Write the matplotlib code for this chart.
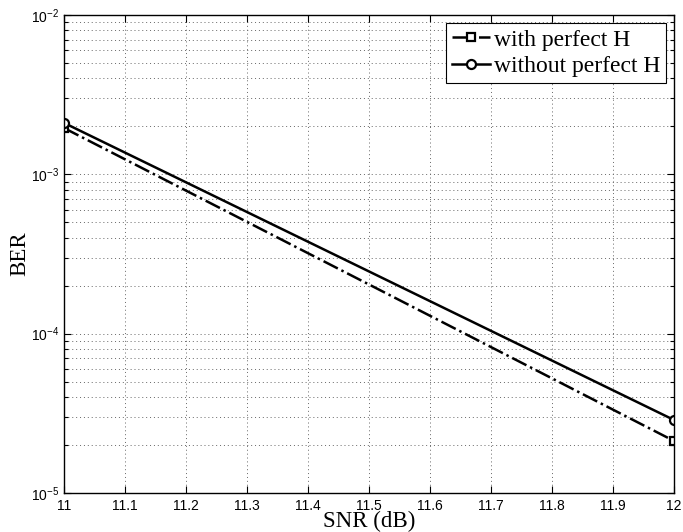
import matplotlib
matplotlib.use("Agg")
import matplotlib.pyplot as plt
from matplotlib.ticker import LogLocator, FixedLocator, NullFormatter

snr = [11, 12]
ber_perfect = [1.95e-3, 2.12e-5]
ber_imperfect = [2.10e-3, 2.87e-5]
xticks = [11, 11.1, 11.2, 11.3, 11.4, 11.5, 11.6, 11.7, 11.8, 11.9, 12]
xticklabels = ["11", "11.1", "11.2", "11.3", "11.4", "11.5", "11.6", "11.7", "11.8", "11.9", "12"]

fig = plt.figure(figsize=(6.83, 5.32), dpi=100)
ax = fig.add_axes([0.094, 0.0733, 0.893, 0.8985])

ax.semilogy(snr, ber_perfect, linestyle='-.', color='black', linewidth=1.8,
            marker='s', markersize=5.5, markerfacecolor='white', markeredgewidth=1.6,
            label='with perfect H')
ax.semilogy(snr, ber_imperfect, linestyle='-', color='black', linewidth=1.8,
            marker='o', markersize=6.5, markerfacecolor='white', markeredgewidth=1.6,
            label='without perfect H')

ax.set_xlim(11, 12)
ax.set_ylim(1e-5, 1e-2)
ax.xaxis.set_major_locator(FixedLocator(xticks))
ax.set_xticklabels(xticklabels)
ax.yaxis.set_major_locator(LogLocator(base=10, numticks=10))
ax.yaxis.set_minor_locator(LogLocator(base=10, subs=range(2, 10), numticks=20))
ax.yaxis.set_minor_formatter(NullFormatter())

ax.grid(True, which='major', linestyle=(0, (1, 3)), color='#666666', linewidth=0.7)
ax.grid(True, which='minor', axis='y', linestyle=(0, (1, 3)), color='#666666', linewidth=0.7)

ax.tick_params(which='both', direction='in', top=True, right=True)
ax.tick_params(which='major', length=5, width=0.8, labelsize=10)
ax.tick_params(which='minor', length=3, width=0.8)
ax.tick_params(axis='x', which='major', pad=4)
for lbl in ax.get_xticklabels() + ax.get_yticklabels():
    lbl.set_fontfamily('Liberation Sans')
for s in ax.spines.values():
    s.set_linewidth(1.0)

ax.set_xlabel('SNR (dB)', fontfamily='Liberation Serif', fontsize=16.5, labelpad=-1)
ax.set_ylabel('BER', fontfamily='Liberation Serif', fontsize=16.5)
ax.yaxis.set_label_coords(-0.056, 0.5)

leg = ax.legend(loc='upper right', prop={'family': 'Liberation Serif', 'size': 17},
                fancybox=False, edgecolor='black', framealpha=1, borderaxespad=0.35,
                handlelength=1.6, handletextpad=0.15, borderpad=0.25, labelspacing=0.2)
leg.get_frame().set_linewidth(0.8)

fig.savefig('out.png', dpi=100)
